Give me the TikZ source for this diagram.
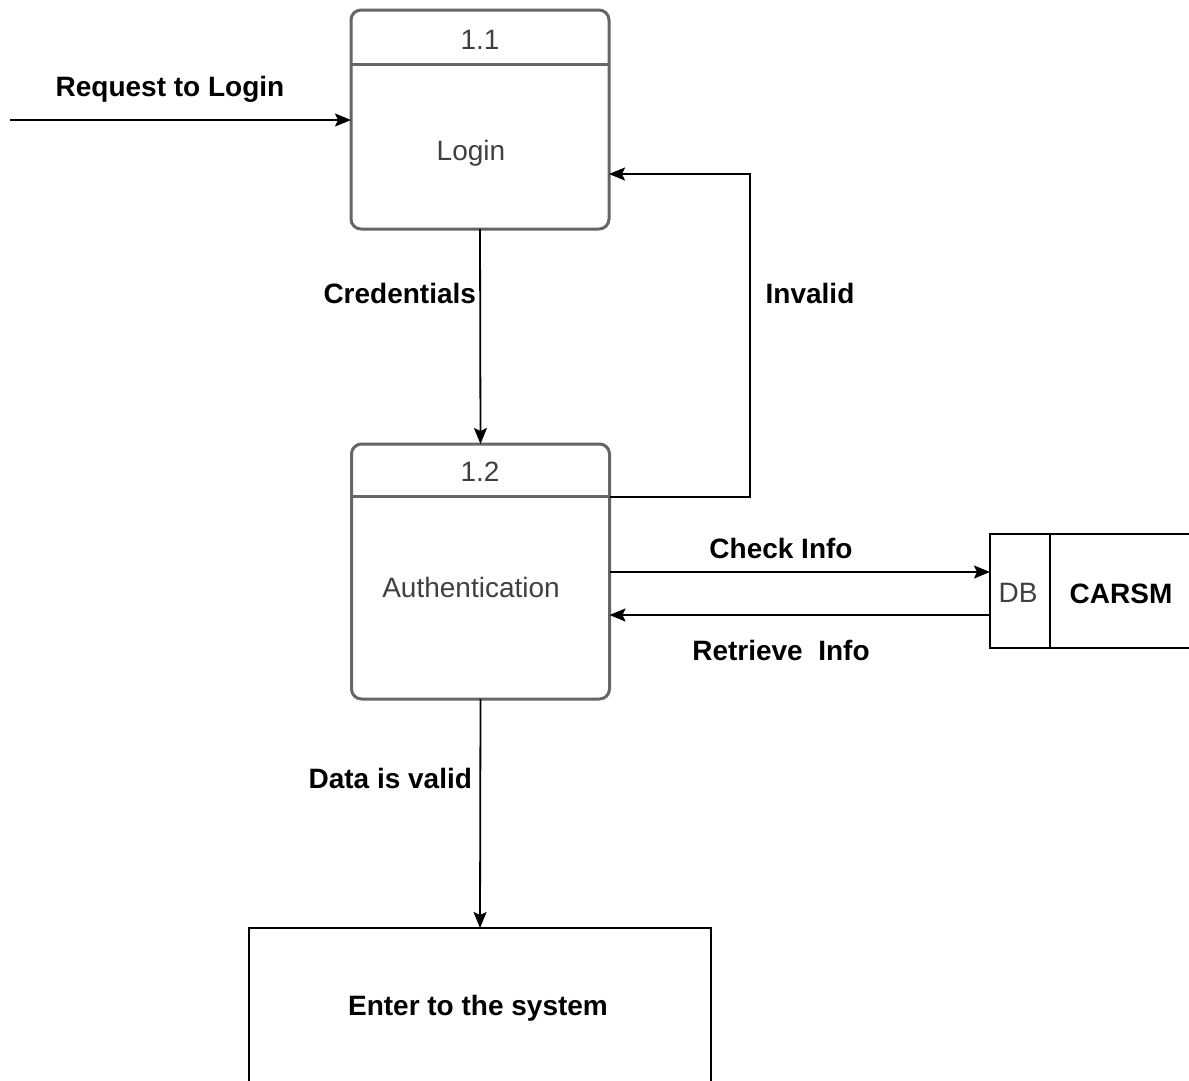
\documentclass[tikz,border=0pt]{standalone}
\usepackage{fontspec}
\setmainfont{Liberation Sans}
\usetikzlibrary{arrows.meta}
\definecolor{boxline}{HTML}{666666}
\definecolor{boxtext}{HTML}{404040}
\begin{document}
\begin{tikzpicture}[x=1pt,y=-1pt,
  every node/.style={font=\fontsize{28}{32}\selectfont, inner sep=0pt, outer sep=0pt},
  process/.style={draw=boxline, line width=3pt, rounded corners=10pt, minimum width=258pt, text=boxtext},
  flow/.style={draw=black, line width=1.8pt, -{Stealth[length=16pt,width=13pt,inset=3pt]}},
  lbl/.style={font=\fontsize{28}{32}\selectfont\bfseries},
  plain/.style={draw=black, line width=2pt}]
\useasboundingbox (0,0) rectangle (1189,1080);
\clip (0,0) rectangle (1189,1080);

% processes
\node[process, minimum height=219pt] (p11) at (480,119.5) {};
\draw[boxline, line width=3pt] (351,64) -- (609,64);
\node[text=boxtext] (h11) at (480,40) {1.1};
\node[text=boxtext] (t11) at (471,153) {Login};

\node[process, minimum height=255pt] (p12) at (480.5,571.5) {};
\draw[boxline, line width=3pt] (351.5,496) -- (609.5,496);
\node[text=boxtext] (h12) at (480,472) {1.2};
\node[text=boxtext] (t12) at (471,587) {Authentication};

% data store
\node[plain, minimum width=60pt, minimum height=114pt] (db) at (1020,591) {};
\node[text=boxtext] (dbt) at (1018,593) {DB};
\node[plain, minimum width=170pt, minimum height=114pt] (store) at (1135,591) {};
\node[lbl] (carsm) at (1121,594) {CARSM};

% external target
\node[plain, minimum width=462pt, minimum height=200pt] (enter) at (480,1028) {};
\node[lbl] (entert) at (478,1008) {Enter to the system};

% incoming request
\coordinate (src) at (10,120);
\draw[flow] (src) -- (p11.west |- src);
\node[lbl] (lreq) at (170,89) {Request to Login};

% login -> authentication
\draw[flow] (p11.south) -- (p12.north);
\node[lbl, anchor=east] (lcred) at (476,293) {Credentials};

% invalid loop back
\coordinate (inv1) at (750,497);
\coordinate (inv2) at (750,174);
\draw[flow] (p12.east |- inv1) -- (inv1) -- (inv2) -- (p11.east |- inv2);
\node[lbl] (linv) at (810,293) {Invalid};

% database exchange
\coordinate (chk) at (0,572);
\coordinate (ret) at (0,615);
\draw[flow] (p12.east |- chk) -- (db.west |- chk);
\node[lbl] (lchk) at (781,548) {Check Info};
\draw[flow] (db.west |- ret) -- (p12.east |- ret);
\node[lbl] (lret) at (781,650) {Retrieve\ \ Info};

% authentication -> system
\draw[flow] (p12.south) -- (enter.north);
\node[lbl, anchor=east] (lval) at (472,778) {Data is valid};
\end{tikzpicture}
\end{document}
